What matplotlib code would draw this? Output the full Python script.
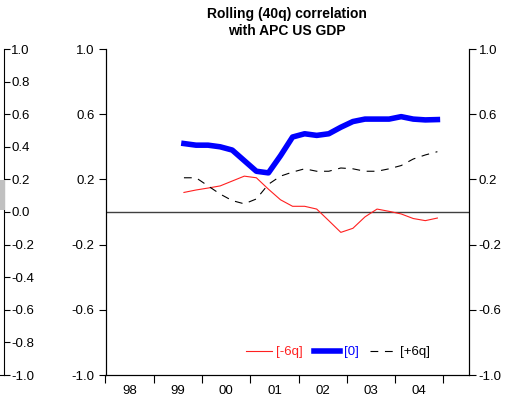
import numpy as np
import matplotlib
matplotlib.use('Agg')
from matplotlib import pyplot as plt
from matplotlib.patches import Rectangle

plt.rcParams['font.family'] = ['Liberation Sans', 'DejaVu Sans']

# quarterly observations, 1999Q3 .. 2004Q4 (plotted at quarter midpoints)
quarters = 1999.625 + 0.25 * np.arange(22)
corr_m6 = [0.12, 0.135, 0.147, 0.16, 0.19, 0.22, 0.21, 0.14, 0.075, 0.035, 0.035,
           0.018, -0.053, -0.125, -0.10, -0.03, 0.018, 0.004, -0.012, -0.04, -0.053, -0.037]
corr_0 = [0.42, 0.41, 0.41, 0.40, 0.38, 0.315, 0.25, 0.24, 0.345, 0.46, 0.48,
          0.47, 0.48, 0.52, 0.555, 0.57, 0.57, 0.57, 0.585, 0.57, 0.565, 0.567]
corr_p6 = [0.21, 0.21, 0.16, 0.11, 0.07, 0.05, 0.08, 0.17, 0.22, 0.245, 0.265,
           0.25, 0.25, 0.27, 0.265, 0.25, 0.25, 0.265, 0.285, 0.325, 0.35, 0.37]

years = [1998, 1999, 2000, 2001, 2002, 2003, 2004, 2005]
year_labels = ['98', '99', '00', '01', '02', '03', '04']
main_ticks = [-1.0, -0.6, -0.2, 0.2, 0.6, 1.0]
side_ticks = [-1.0, -0.8, -0.6, -0.4, -0.2, 0.0, 0.2, 0.4, 0.6, 0.8, 1.0]
side_labels = ['-1.0', '-0.8', '-0.6', '-0.4', '-0.2', '0.0', '0.2', '0.4', '0.6', '0.8', '1.0']

W, H = 519, 403
fig = plt.figure(figsize=[W / 100, H / 100], dpi=100)

x0, x1 = 105.5, 469
ytop, ybot = 49, 375
ax = fig.add_axes([x0 / W, (H - ybot) / H, (x1 - x0) / W, (ybot - ytop) / H])

ax.axhline(0, color='#404040', lw=1)
ax.plot(quarters, corr_m6, color='#ff2020', lw=0.8, label='[-6q]')
ax.plot(quarters, corr_0, color='#0000ff', lw=4, label='[0]')
ax.plot(quarters, corr_p6, color='black', lw=0.8, dashes=(7, 6), label='[+6q]')

ax.set_xlim(1998, 2005.53)
ax.set_ylim(-1, 1)
ax.set_yticks(main_ticks)
ax.set_yticklabels([f'{v:.1f}' for v in main_ticks], fontsize=9.5)
ax.set_xticks(years)
ax.set_xticklabels([])
ax.set_xticks([y + 0.5 for y in years[:-1]], minor=True)
ax.set_xticklabels(year_labels, minor=True, fontsize=9.5)
ax.tick_params(axis='x', which='minor', length=0, pad=7)
ax.tick_params(axis='x', which='major', length=6, direction='out')
ax.tick_params(axis='y', length=5, direction='out', pad=3)
ax.spines['top'].set_visible(False)
for s in ax.spines.values():
    s.set_linewidth(0.8)

ax2 = ax.twinx()
ax2.set_ylim(-1, 1)
ax2.set_yticks(main_ticks)
ax2.set_yticklabels([f'{v:.1f}' for v in main_ticks], fontsize=9.5)
ax2.tick_params(axis='y', length=5, direction='out', pad=2)
ax2.spines['top'].set_visible(False)
ax2.spines['right'].set_linewidth(0.8)

leg = ax.legend(loc='lower right', bbox_to_anchor=(0.925, 0.015), ncol=3, frameon=False,
                fontsize=9.5, labelcolor='linecolor', handlelength=2.0,
                handletextpad=0.3, columnspacing=0.8)

# partial axis at the far left edge
ax3 = fig.add_axes([0, (H - ybot) / H, 4.5 / W, (ybot - ytop) / H])
ax3.set_ylim(-1, 1)
ax3.set_xticks([])
ax3.yaxis.tick_right()
ax3.set_yticks(side_ticks)
ax3.set_yticklabels(side_labels, fontsize=9.5)
ax3.tick_params(axis='y', length=4, direction='out', pad=1)
ax3.spines['top'].set_visible(False)
ax3.spines['left'].set_visible(False)
ax3.spines['right'].set_linewidth(0.8)
ax3.spines['bottom'].set_linewidth(0.8)
ax3.patch.set_visible(False)

fig.patches.append(Rectangle((0, (H - 210) / H), 5 / W, 30 / H, transform=fig.transFigure,
                             facecolor='#c0c0c0', edgecolor='none'))

fig.text(287 / W, (H - 14) / H, 'Rolling (40q) correlation', ha='center', va='center',
         fontsize=10, fontweight='bold')
fig.text(287 / W, (H - 31) / H, 'with APC US GDP', ha='center', va='center',
         fontsize=10, fontweight='bold')

plt.savefig('out.png', dpi=100)
